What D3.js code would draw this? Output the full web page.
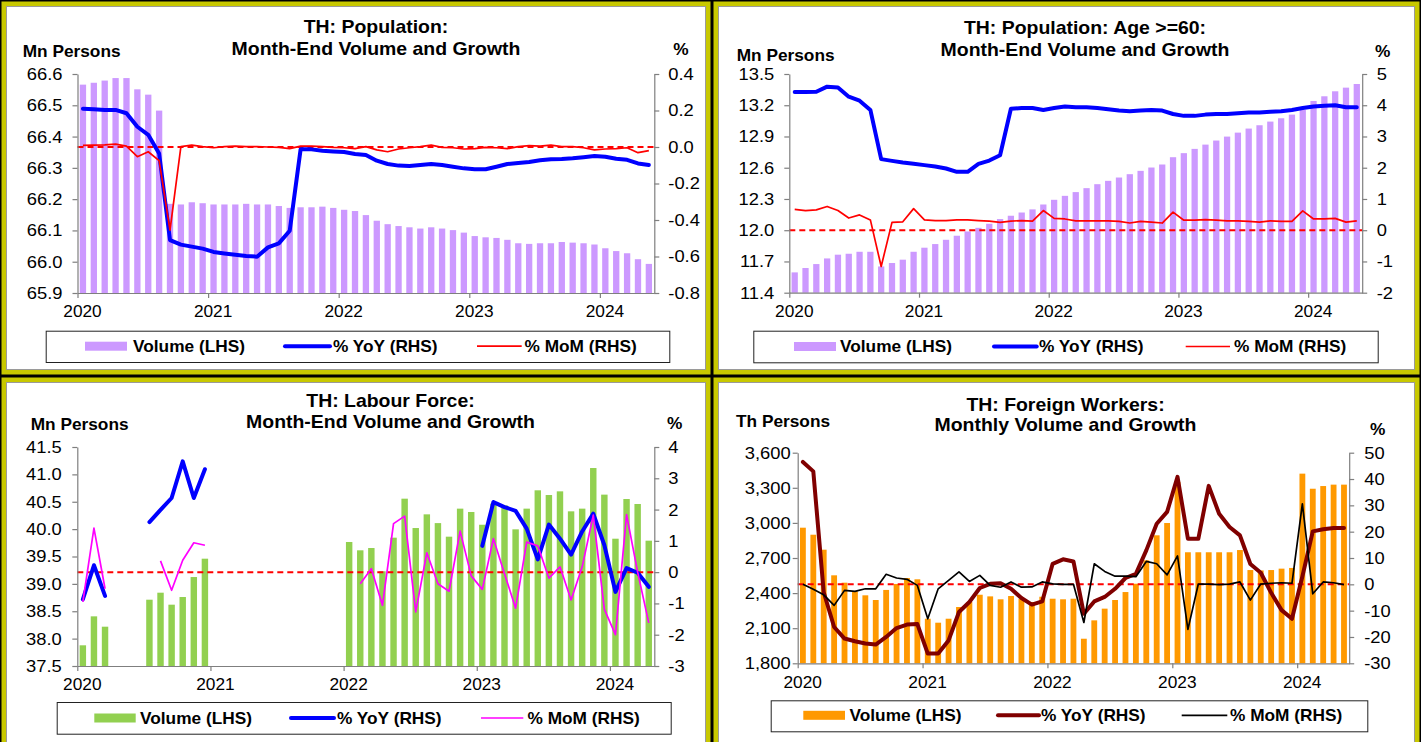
<!DOCTYPE html>
<html><head><meta charset="utf-8">
<script src="https://cdn.jsdelivr.net/npm/d3@7"></script>
<style>
body{margin:0;background:#fff}
svg{display:block;font-family:'Liberation Sans',Arial,sans-serif}
</style>
</head><body><script>
// ---------- categories ----------
const months53 = d3.timeMonth.range(new Date(2020,0,1), new Date(2024,5,1)).map(d3.timeFormat('%Y-%m')); // Jan20..May24
const months52 = months53.slice(0,52); // Jan20..Apr24
const yearLabels = ['2020','2021','2022','2023','2024'];

// ---------- Panel 1: Population ----------
const p1Vol = [66.566,66.572,66.579,66.587,66.587,66.551,66.534,66.483,66.185,66.183,66.19,66.187,66.183,66.183,66.183,66.185,66.183,66.183,66.178,66.172,66.174,66.174,66.176,66.172,66.166,66.162,66.149,66.131,66.12,66.114,66.11,66.106,66.11,66.106,66.101,66.093,66.082,66.078,66.076,66.07,66.059,66.057,66.059,66.059,66.063,66.061,66.059,66.055,66.043,66.034,66.027,66.008,65.993];
const p1YoY = [0.21,0.207,0.203,0.203,0.185,0.111,0.067,-0.035,-0.51,-0.535,-0.546,-0.557,-0.575,-0.583,-0.59,-0.597,-0.601,-0.55,-0.528,-0.459,-0.013,-0.013,-0.02,-0.024,-0.027,-0.038,-0.044,-0.075,-0.093,-0.102,-0.104,-0.099,-0.093,-0.099,-0.108,-0.117,-0.122,-0.122,-0.108,-0.093,-0.088,-0.082,-0.073,-0.067,-0.066,-0.062,-0.056,-0.049,-0.053,-0.064,-0.07,-0.09,-0.099];
const p1MoM = [0.009,0.01,0.012,0.016,0.005,-0.053,-0.026,-0.075,-0.455,0.002,0.01,0.002,-0.004,0.002,0.005,0.002,0.002,0.0,-0.002,-0.009,0.005,0.005,0.002,-0.002,-0.004,-0.009,0.002,-0.016,-0.026,-0.011,-0.004,0.002,0.01,-0.002,-0.004,-0.011,-0.009,-0.002,-0.004,-0.009,0.002,0.008,0.005,0.01,0.002,0.002,-0.004,-0.016,-0.011,-0.009,-0.004,-0.031,-0.02];
const p1LeftTicks = [65.9,66.0,66.1,66.2,66.3,66.4,66.5,66.6];
const p1RightTicks = [-0.8,-0.6,-0.4,-0.2,0.0,0.2,0.4];

// ---------- Panel 2: Population Age >=60 ----------
const p2Vol = [11.595,11.637,11.675,11.729,11.765,11.774,11.793,11.793,11.652,11.685,11.717,11.793,11.832,11.867,11.908,11.947,11.988,12.023,12.062,12.107,12.139,12.17,12.2,12.247,12.292,12.33,12.366,12.404,12.442,12.474,12.506,12.538,12.57,12.602,12.631,12.701,12.74,12.781,12.822,12.861,12.899,12.937,12.976,13.008,13.043,13.075,13.11,13.155,13.241,13.286,13.334,13.369,13.404];
const p2YoY = [4.425,4.425,4.43,4.595,4.57,4.275,4.147,3.85,2.275,2.22,2.166,2.125,2.083,2.04,1.975,1.87,1.87,2.125,2.23,2.4,3.89,3.91,3.91,3.85,3.91,3.96,3.935,3.935,3.91,3.87,3.83,3.81,3.83,3.85,3.83,3.72,3.66,3.66,3.7,3.72,3.72,3.745,3.77,3.77,3.79,3.81,3.85,3.91,3.96,3.98,4.0,3.935,3.935];
const p2MoM = [0.67,0.63,0.65,0.76,0.63,0.39,0.49,0.33,-1.16,0.25,0.27,0.69,0.33,0.31,0.31,0.33,0.33,0.31,0.29,0.25,0.29,0.31,0.29,0.63,0.38,0.36,0.3,0.3,0.3,0.3,0.28,0.23,0.28,0.26,0.23,0.58,0.32,0.32,0.34,0.32,0.3,0.3,0.28,0.26,0.3,0.28,0.28,0.62,0.36,0.36,0.38,0.26,0.3];
const p2LeftTicks = [11.4,11.7,12.0,12.3,12.6,12.9,13.2,13.5];
const p2RightTicks = [-2,-1,0,1,2,3,4,5];

// ---------- Panel 3: Labour Force ----------
const p3Vol = [37.878,38.407,38.218,null,null,null,38.711,38.839,38.62,38.76,39.125,39.46,
  null,null,null,null,null,null,null,null,null,null,null,null,
  39.765,39.613,39.655,39.23,39.844,40.556,40.02,40.27,40.11,39.862,40.374,40.313,40.08,40.465,40.435,39.996,40.374,40.709,40.623,40.69,40.325,40.374,41.116,40.63,39.825,40.55,40.459,39.789];
const p3YoY = [-0.87,0.22,-0.76,null,null,null,1.6,1.99,2.37,3.54,2.37,3.29,
  null,null,null,null,null,null,null,null,null,null,null,null,
  null,null,null,null,null,null,null,null,null,null,null,null,
  0.84,2.24,2.08,1.96,1.39,0.41,1.52,1.07,0.56,1.3,1.87,0.86,-0.63,0.13,-0.02,-0.47];
const p3MoM = [-0.95,1.41,-0.53,null,null,null,null,0.36,-0.58,0.38,0.94,0.86,
  null,null,null,null,null,null,null,null,null,null,null,null,null,
  -0.37,0.11,-1.06,1.55,1.79,-1.27,0.62,-0.37,-0.61,1.31,-0.12,-0.55,1.07,-0.05,-1.15,0.96,0.84,-0.19,0.17,-0.89,0.17,1.82,-1.19,-2.0,1.84,0.0,-1.62];
const p3LeftTicks = [37.5,38.0,38.5,39.0,39.5,40.0,40.5,41.0,41.5];
const p3RightTicks = [-3,-2,-1,0,1,2,3,4];

// ---------- Panel 4: Foreign Workers ----------
const p4Vol = [2959,2899,2771,2552,2489,2415,2381,2341,2427,2478,2529,2518,2181,2147,2181,2281,2324,2386,2372,2347,2375,2352,2324,2369,2352,2347,2352,2010,2167,2267,2341,2409,2480,2680,2894,2999,3350,2749,2749,2749,2749,2749,2768,2597,2594,2597,2609,2615,3421,3292,3315,3327,3327];
const p4YoY = [46.5,42.9,-3.0,-16.2,-20.6,-21.6,-22.5,-22.9,-20.0,-16.6,-15.3,-15.1,-26.3,-26.3,-21.3,-10.5,-6.7,-1.4,0.2,0.4,-1.7,-5.2,-7.7,-6.5,7.8,9.5,8.7,-11.2,-6.5,-4.8,-1.7,2.4,4.0,12.9,23.0,27.5,40.8,17.3,17.3,37.4,26.8,21.8,18.6,7.7,4.4,-3.2,-9.8,-13.1,3.0,20.1,20.9,21.4,21.4];
const p4MoM = [0,-1.9,-4.0,-8.0,-2.3,-2.7,-1.7,-1.7,3.8,2.4,1.9,-0.4,-13.1,-1.7,1.5,4.7,1.1,3.4,-0.4,-1.1,0.9,-1.1,-1.0,0.9,0.2,0,0,-14.5,7.8,4.9,3.1,3.1,2.9,8.7,7.8,3.6,10.8,-17.1,0.1,0.1,-0.1,0.1,0.9,-6.0,0.1,0.4,0.6,0.4,30.6,-3.6,0.9,0.6,-0.1];
const p4LeftTicks = [1800,2100,2400,2700,3000,3300,3600];
const p4RightTicks = [-30,-20,-10,0,10,20,30,40,50];

// ---------- drawing ----------
const W = 1424, H = 742, SX = 1.08;
const svg = d3.select('body').append('svg').attr('width', W).attr('height', H);

function stretch(sel){
  sel.each(function(){
    const t = d3.select(this);
    const x = +t.attr('x') || 0, y = +t.attr('y') || 0;
    t.attr('x', null).attr('y', null).attr('transform', `translate(${x},${y}) scale(${SX},1)`);
  });
}
function label(g, x, y, s, size, weight, anchor){
  g.append('text').attr('x', x).attr('y', y).text(s)
    .attr('font-size', size).attr('font-weight', weight || 'normal')
    .attr('text-anchor', anchor || 'start').attr('fill', '#000')
    .call(stretch);
}
function frame(x0, y0, x1, y1){
  svg.append('rect').attr('x', x0).attr('y', y0).attr('width', x1 - x0).attr('height', y1 - y0).attr('fill', '#000');
  svg.append('rect').attr('x', x0 + 1.5).attr('y', y0 + 1.5).attr('width', x1 - x0 - 3).attr('height', y1 - y0 - 3).attr('fill', '#c8c800');
  svg.append('rect').attr('x', x0 + 6.5).attr('y', y0 + 6.5).attr('width', x1 - x0 - 13).attr('height', y1 - y0 - 13)
    .attr('fill', '#fff').attr('stroke', '#9a9a9a').attr('stroke-width', 1);
}
frame(0, 0, 712, 376);
frame(712, 0, 1421, 376);
frame(0, 376, 712, 760);
frame(712, 376, 1421, 760);

function styleAxis(g, size){
  g.attr('font-family', null).attr('font-size', null);
  g.select('.domain').attr('stroke', '#7f7f7f').attr('stroke-width', 1.2);
  g.selectAll('.tick line').attr('stroke', '#7f7f7f').attr('stroke-width', 1.2);
  g.selectAll('.tick text').attr('fill', '#000').attr('font-size', size).call(stretch);
}

function panel(c){
  const g = svg.append('g');
  const n = c.months.length;
  const band = d3.scaleBand().domain(c.months).range([c.x0, c.x1])
    .paddingInner(1 - c.barFrac).paddingOuter((1 - c.barFrac) / 2);
  const xi = d3.scaleLinear().domain([0, n]).range([c.x0, c.x1]);
  const yL = d3.scaleLinear().domain([c.lTicks[0], c.lTicks[c.lTicks.length - 1]]).range([c.yB, c.yT]);
  const yR = d3.scaleLinear().domain([c.rTicks[0], c.rTicks[c.rTicks.length - 1]]).range([c.yB, c.yT]);
  const cx = i => band(c.months[i]) + band.bandwidth() / 2;

  // bars
  g.append('g').selectAll('rect')
    .data(c.vol.map((v, i) => ({v, i})).filter(d => d.v != null))
    .join('rect')
    .attr('x', d => band(c.months[d.i])).attr('width', band.bandwidth())
    .attr('y', d => yL(d.v)).attr('height', d => c.yB - yL(d.v))
    .attr('fill', c.barColor);

  // zero line (RHS)
  g.append('line').attr('x1', c.x0).attr('x2', c.x1).attr('y1', yR(0)).attr('y2', yR(0))
    .attr('stroke', '#ff0000').attr('stroke-width', 2).attr('stroke-dasharray', '6,4');

  // axes
  const axL = g.append('g').attr('transform', `translate(${c.x0},0)`)
    .call(d3.axisLeft(yL).tickValues(c.lTicks).tickFormat(c.lFmt).tickSize(5).tickSizeOuter(0).tickPadding(c.lPad));
  styleAxis(axL, 17);
  const axR = g.append('g').attr('transform', `translate(${c.x1},0)`)
    .call(d3.axisRight(yR).tickValues(c.rTicks).tickFormat(c.rFmt).tickSize(5).tickSizeOuter(0).tickPadding(c.rPad));
  styleAxis(axR, 17);
  const yearIdx = yearLabels.map(y => c.months.indexOf(y + '-01'));
  const axB = g.append('g').attr('transform', `translate(0,${c.yB})`)
    .call(d3.axisBottom(xi).tickValues(yearIdx).tickFormat(i => c.months[i].slice(0, 4)).tickSize(5).tickSizeOuter(0).tickPadding(8));
  axB.selectAll('.tick text').attr('x', 4.5);
  styleAxis(axB, 16);

  // lines
  const line = d3.line().defined(d => d.v != null).x(d => cx(d.i)).y(d => yR(d.v));
  g.append('path').datum(c.yoy.map((v, i) => ({v, i})))
    .attr('d', line).attr('fill', 'none').attr('stroke', c.yoyColor)
    .attr('stroke-width', 4).attr('stroke-linejoin', 'round').attr('stroke-linecap', 'round');
  g.append('path').datum(c.mom.map((v, i) => ({v, i})))
    .attr('d', line).attr('fill', 'none').attr('stroke', c.momColor)
    .attr('stroke-width', 1.7).attr('stroke-linejoin', 'round');

  // titles
  label(g, c.titleX, c.titleY[0], c.title[0], 18, 'bold', 'middle');
  label(g, c.titleX, c.titleY[1], c.title[1], 18, 'bold', 'middle');
  label(g, c.unitL[0], c.unitL[1], c.unitL[2], 16, 'bold');
  label(g, c.unitR[0], c.unitR[1], '%', 16, 'bold');

  // legend
  const L = c.legend;
  g.append('rect').attr('x', L.box[0] + 0.5).attr('y', L.box[1] + 0.5)
    .attr('width', L.box[2] - L.box[0]).attr('height', L.box[3] - L.box[1])
    .attr('fill', '#fff').attr('stroke', '#222').attr('stroke-width', 1);
  g.append('rect').attr('x', L.bar[0]).attr('y', L.cy - 4.5).attr('width', L.bar[1] - L.bar[0]).attr('height', 9)
    .attr('fill', c.barColor);
  label(g, L.bar[2], L.ty, c.names[0], 16, 'bold');
  g.append('line').attr('x1', L.yoy[0]).attr('x2', L.yoy[1]).attr('y1', L.cy).attr('y2', L.cy)
    .attr('stroke', c.yoyColor).attr('stroke-width', 4).attr('stroke-linecap', 'round');
  label(g, L.yoy[2], L.ty, c.names[1], 16, 'bold');
  g.append('line').attr('x1', L.mom[0]).attr('x2', L.mom[1]).attr('y1', L.cy).attr('y2', L.cy)
    .attr('stroke', c.momColor).attr('stroke-width', 1.7);
  label(g, L.mom[2], L.ty, c.names[2], 16, 'bold');
}

const f1 = d => d.toFixed(1);
const f0 = d => d.toFixed(0);
const fc = d3.format(',');
const names = ['Volume (LHS)', '% YoY (RHS)', '% MoM (RHS)'];

panel({
  months: months53, x0: 77.5, x1: 654.3, yT: 74, yB: 293, barFrac: 0.58,
  vol: p1Vol, yoy: p1YoY, mom: p1MoM,
  lTicks: p1LeftTicks, rTicks: p1RightTicks, lFmt: f1, rFmt: f1, lPad: 10, rPad: 9,
  barColor: '#cc99ff', yoyColor: '#0000ff', momColor: '#ff0000',
  title: ['TH: Population:', 'Month-End Volume and Growth'], titleX: 376, titleY: [33, 55],
  unitL: [22.7, 57, 'Mn Persons'], unitR: [673.3, 55], names,
  legend: {box: [45.7, 330.7, 669.3, 362], cy: 346.2, ty: 351.8,
    bar: [85, 127, 133], yoy: [285, 330, 333], mom: [477, 521.7, 524.5]}
});
panel({
  months: months53, x0: 789.3, x1: 1362.2, yT: 74, yB: 292.7, barFrac: 0.58,
  vol: p2Vol, yoy: p2YoY, mom: p2MoM,
  lTicks: p2LeftTicks, rTicks: p2RightTicks, lFmt: f1, rFmt: f0, lPad: 10, rPad: 9.5,
  barColor: '#cc99ff', yoyColor: '#0000ff', momColor: '#ff0000',
  title: ['TH: Population: Age >=60:', 'Month-End Volume and Growth'], titleX: 1085, titleY: [34, 55.5],
  unitL: [736.7, 61, 'Mn Persons'], unitR: [1375, 57], names,
  legend: {box: [753.3, 330.7, 1377.7, 362.3], cy: 346.5, ty: 352,
    bar: [794, 836, 840], yoy: [994, 1036.7, 1039], mom: [1185.7, 1230, 1234]}
});
panel({
  months: months52, x0: 77.3, x1: 654.3, yT: 447, yB: 666, barFrac: 0.58,
  vol: p3Vol, yoy: p3YoY, mom: p3MoM,
  lTicks: p3LeftTicks, rTicks: p3RightTicks, lFmt: f1, rFmt: f0, lPad: 10.5, rPad: 9,
  barColor: '#92d050', yoyColor: '#0000ff', momColor: '#ff00ff',
  title: ['TH: Labour Force:', 'Month-End Volume and Growth'], titleX: 390.5, titleY: [407, 428],
  unitL: [30.7, 430, 'Mn Persons'], unitR: [667, 429], names,
  legend: {box: [56.7, 702, 670.7, 733.7], cy: 718, ty: 723.7,
    bar: [94.3, 135.7, 140], yoy: [291, 334, 337], mom: [481, 523.3, 527.5]}
});
panel({
  months: months53, x0: 797.7, x1: 1349.2, yT: 452.7, yB: 663.3, barFrac: 0.56,
  vol: p4Vol, yoy: p4YoY, mom: p4MoM,
  lTicks: p4LeftTicks, rTicks: p4RightTicks, lFmt: fc, rFmt: f0, lPad: 2, rPad: 10,
  barColor: '#ff9900', yoyColor: '#800000', momColor: '#000000',
  title: ['TH: Foreign Workers:', 'Monthly Volume and Growth'], titleX: 1065.5, titleY: [411, 431],
  unitL: [736, 427, 'Th Persons'], unitR: [1370, 435], names,
  legend: {box: [770.7, 700.3, 1367.3, 731.3], cy: 715.3, ty: 720.5,
    bar: [803.3, 845, 849.5], yoy: [998, 1039, 1041], mom: [1181.7, 1227.3, 1230]}
});
</script></body></html>
